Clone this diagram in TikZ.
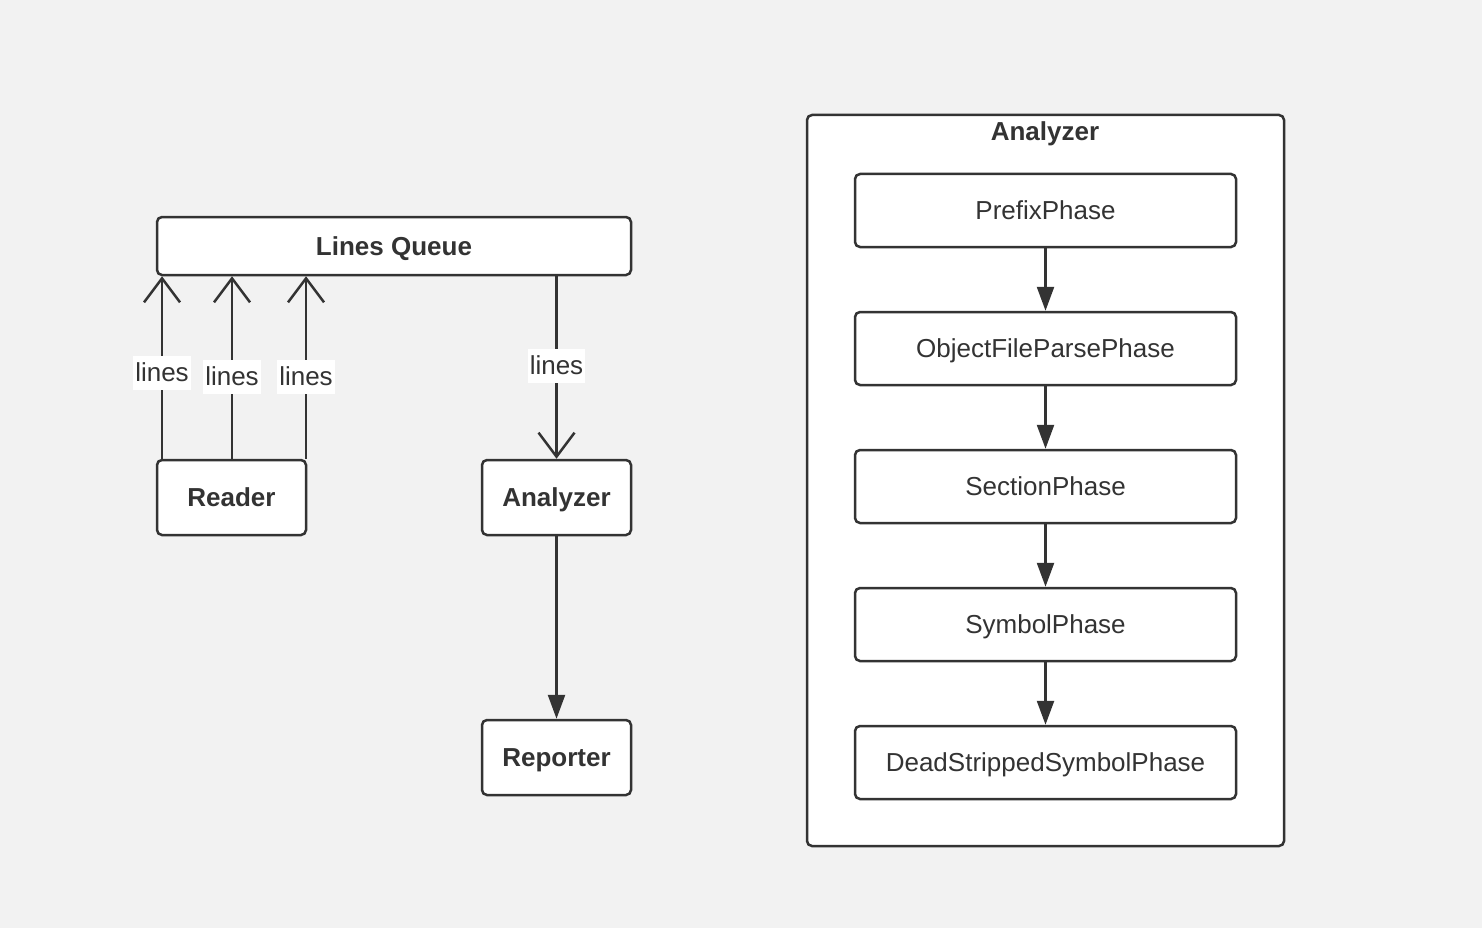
\documentclass[tikz,border=0pt]{standalone}
\usepackage{fontspec}
\setmainfont{Liberation Sans}
\usetikzlibrary{arrows.meta,calc}
\definecolor{bg}{HTML}{F2F2F2}
\definecolor{ink}{HTML}{333333}
\tikzset{
  txt/.style={font=\fontsize{26}{31}\selectfont, text height=18.6pt, text depth=0pt, text=ink},
  box/.style={draw=ink, fill=white, line width=2.5pt, rounded corners=5pt, inner sep=0pt,
    txt, font=\fontsize{26}{31}\selectfont\bfseries},
  phase/.style={box, font=\fontsize{26}{31}\selectfont, minimum width=381pt, minimum height=73pt},
  small/.style={box, minimum width=149pt, minimum height=75pt},
  cluster/.style={draw=ink, fill=white, line width=2.5pt, rounded corners=5pt, inner sep=0pt},
  openarrow/.style={draw=ink, line width=2.5pt, -{Straight Barb[length=24pt,width=36pt,line width=2.5pt]}},
  solidarrow/.style={draw=ink, line width=2.5pt, -{Triangle[length=24pt,width=17pt]}},
  lbl/.style={fill=white, inner xsep=2pt, inner ysep=2pt, text=ink, font=\fontsize{26}{31}\selectfont,
    text height=24pt, text depth=6pt}
}
\begin{document}
\begin{tikzpicture}[x=1pt,y=-1pt]
\fill[bg] (0,0) rectangle (1482,928);
\useasboundingbox (0,0) rectangle (1482,928);

% left part
\node[box, minimum width=474pt, minimum height=58pt] (lq) at (394,246) {Lines Queue};
\node[small] (reader) at (231.5,497.5) {Reader};
\node[small] (an) at (556.5,497.5) {Analyzer};
\node[small] (rep) at (556.5,757.5) {Reporter};

\draw[openarrow] (reader.north -| 162,0) -- node[lbl, pos=0.47] {lines} (lq.south -| 162,0);
\draw[openarrow] (reader.north -| 232,0) -- node[lbl, pos=0.45] {lines} (lq.south -| 232,0);
\draw[openarrow] (reader.north -| 306,0) -- node[lbl, pos=0.45] {lines} (lq.south -| 306,0);
\draw[openarrow] (lq.south -| an.north) -- node[lbl, pos=0.49] {lines} (an.north);
\draw[solidarrow] (an.south) -- (rep.north);

% right cluster
\node[cluster, minimum width=477pt, minimum height=731pt] (cl) at (1045.5,480.5) {};
\node[txt, font=\fontsize{26}{31}\selectfont\bfseries, inner sep=0pt] (cltitle) at (1045,131) {Analyzer};

\node[phase] (p1) at (1045.5,210.5) {PrefixPhase};
\node[phase] (p2) at (1045.5,348.5) {ObjectFileParsePhase};
\node[phase] (p3) at (1045.5,486.5) {SectionPhase};
\node[phase] (p4) at (1045.5,624.5) {SymbolPhase};
\node[phase] (p5) at (1045.5,762.5) {DeadStrippedSymbolPhase};

\draw[solidarrow] (p1.south) -- (p2.north);
\draw[solidarrow] (p2.south) -- (p3.north);
\draw[solidarrow] (p3.south) -- (p4.north);
\draw[solidarrow] (p4.south) -- (p5.north);
\end{tikzpicture}
\end{document}
